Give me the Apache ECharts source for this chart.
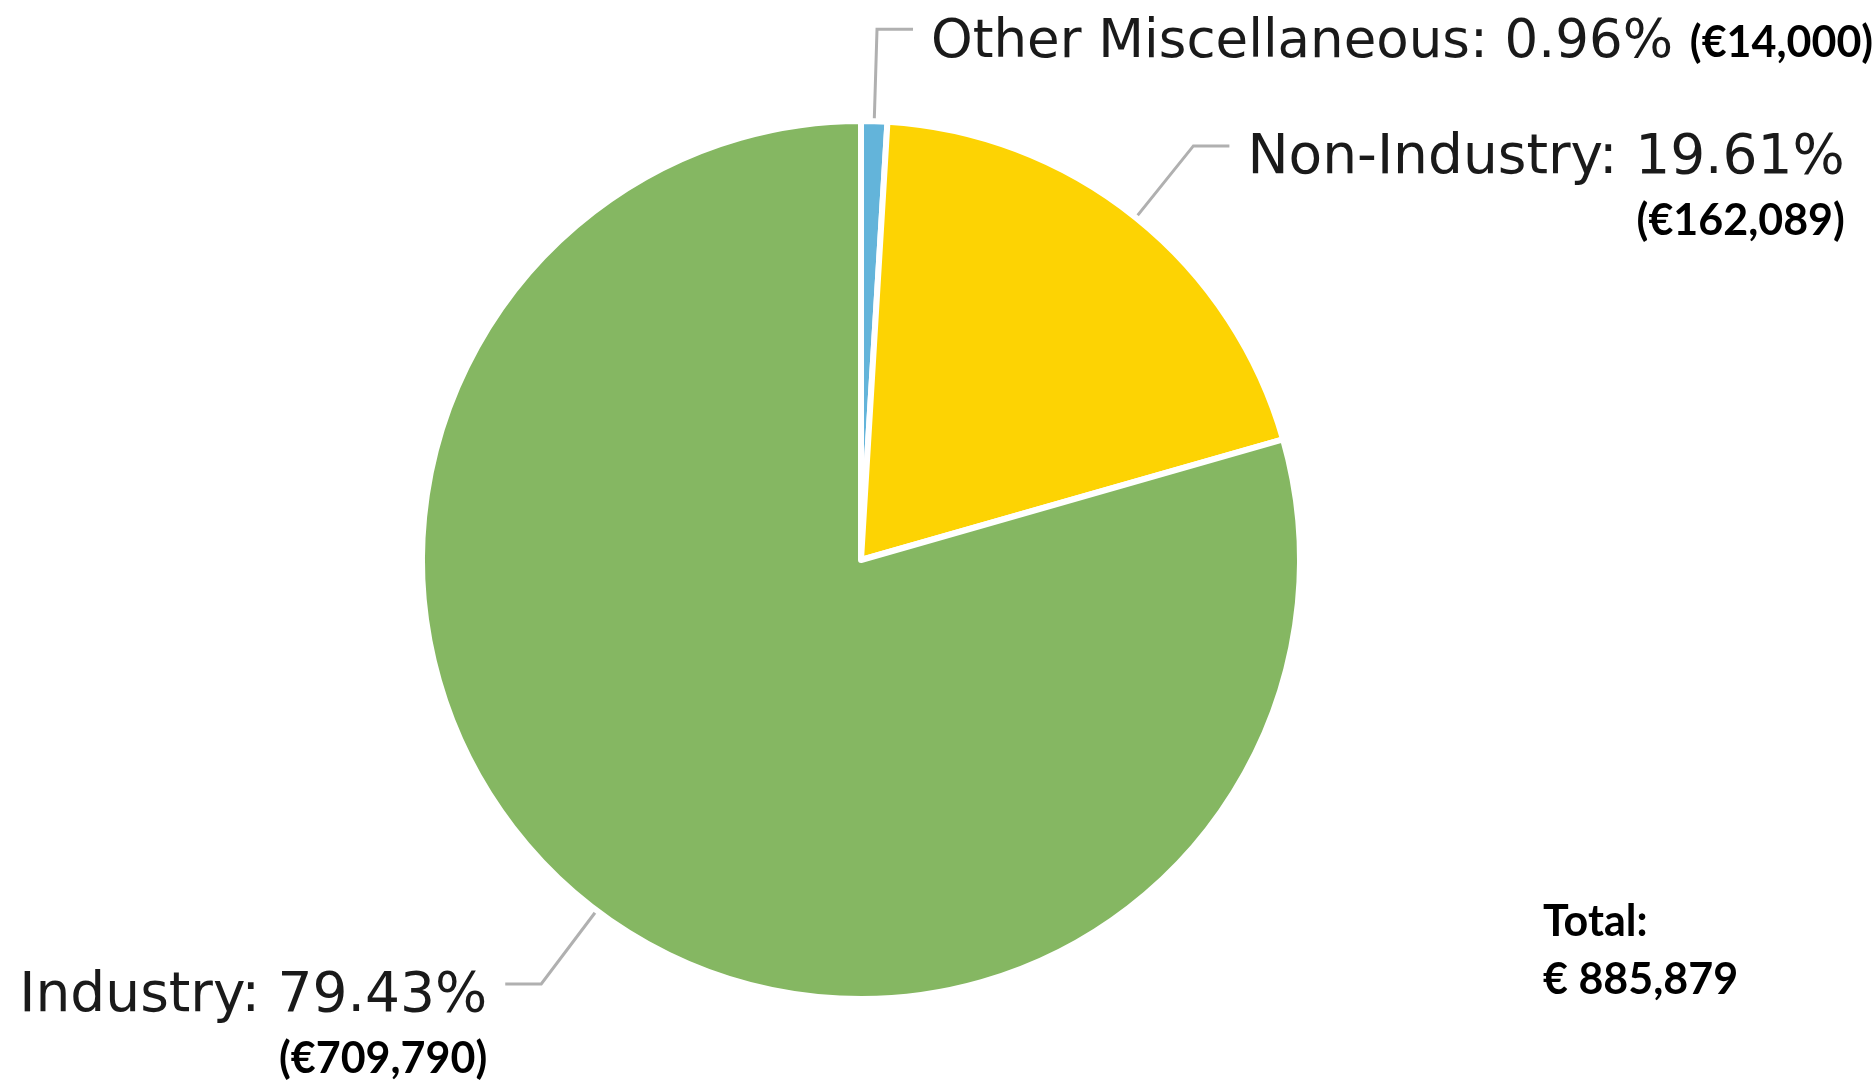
<!DOCTYPE html>
<html>
<head>
<meta charset="utf-8">
<script src="https://cdn.jsdelivr.net/npm/echarts@6/dist/echarts.min.js"></script>
<style>
  html, body { margin: 0; padding: 0; background: #fff; }
  #chart { width: 1875px; height: 1084px; }
</style>
</head>
<body>
<div id="chart"></div>
<script>
// données du graphique
var categories = ['Other Miscellaneous', 'Non-Industry', 'Industry'];
var shares = [0.96, 19.61, 79.43];          // % affichés (taille des parts)
var amounts = [14000, 162089, 709790];      // montants en euros
var colors = ['#63b4da', '#fdd303', '#85b762'];

var total = amounts.reduce(function (a, b) { return a + b; }, 0);

function euro(v) {
    return v.toLocaleString('en-US');
}

var chart = echarts.init(document.getElementById('chart'));

chart.setOption({
    animation: false,
    backgroundColor: '#fff',
    graphic: [{
        type: 'text',
        left: 1543,
        top: 893,
        style: {
            text: 'Total:\n€ ' + euro(total),
            font: 'bold 43px Lato',
            lineHeight: 58,
            fill: '#000'
        }
    }],
    series: [{
        type: 'pie',
        center: [861, 560],
        radius: 439,
        startAngle: 90,
        clockwise: true,
        avoidLabelOverlap: false,
        silent: true,
        itemStyle: {
            borderColor: '#fff',
            borderWidth: 6
        },
        data: categories.map(function (name, i) {
            return { name: name, value: shares[i], itemStyle: { color: colors[i] } };
        }),
        label: {
            position: 'outside',
            distanceToLabelLine: 18,
            formatter: function (p) {
                var txt = p.name + ': ' + shares[p.dataIndex].toFixed(2) + '%';
                var val = '{b|(€' + euro(amounts[p.dataIndex]) + ')}';
                // la petite part garde tout sur une ligne
                if (p.dataIndex === 0) return '{a|' + txt + ' }' + val;
                return '{c|' + txt + '}\n' + val;
            },
            rich: {
                a: { fontFamily: 'DejaVu Sans', fontSize: 53, color: '#1a1a1a', lineHeight: 63 },
                c: { fontFamily: 'DejaVu Sans', fontSize: 55, color: '#1a1a1a', lineHeight: 63 },
                b: { fontFamily: 'Lato', fontWeight: 'bold', fontSize: 43, color: '#000', lineHeight: 63 }
            }
        },
        labelLine: {
            show: true,
            length: 92,
            length2: 36,
            lineStyle: { color: '#b0b0b0', width: 3 }
        },
        labelLayout: function (params) {
            var r = params.labelRect;
            var res = { labelLinePoints: params.labelLinePoints };
            if (params.dataIndex === 0) {
                res.y = r.y + r.height / 2 + 14;
            } else {
                // première ligne alignée sur le trait
                res.y = r.y + r.height * 0.75 + 19;
            }
            if (params.dataIndex === 1) {
                res.x = r.x + r.width;
                res.align = 'right';
            }
            return res;
        }
    }]
});
</script>
</body>
</html>
